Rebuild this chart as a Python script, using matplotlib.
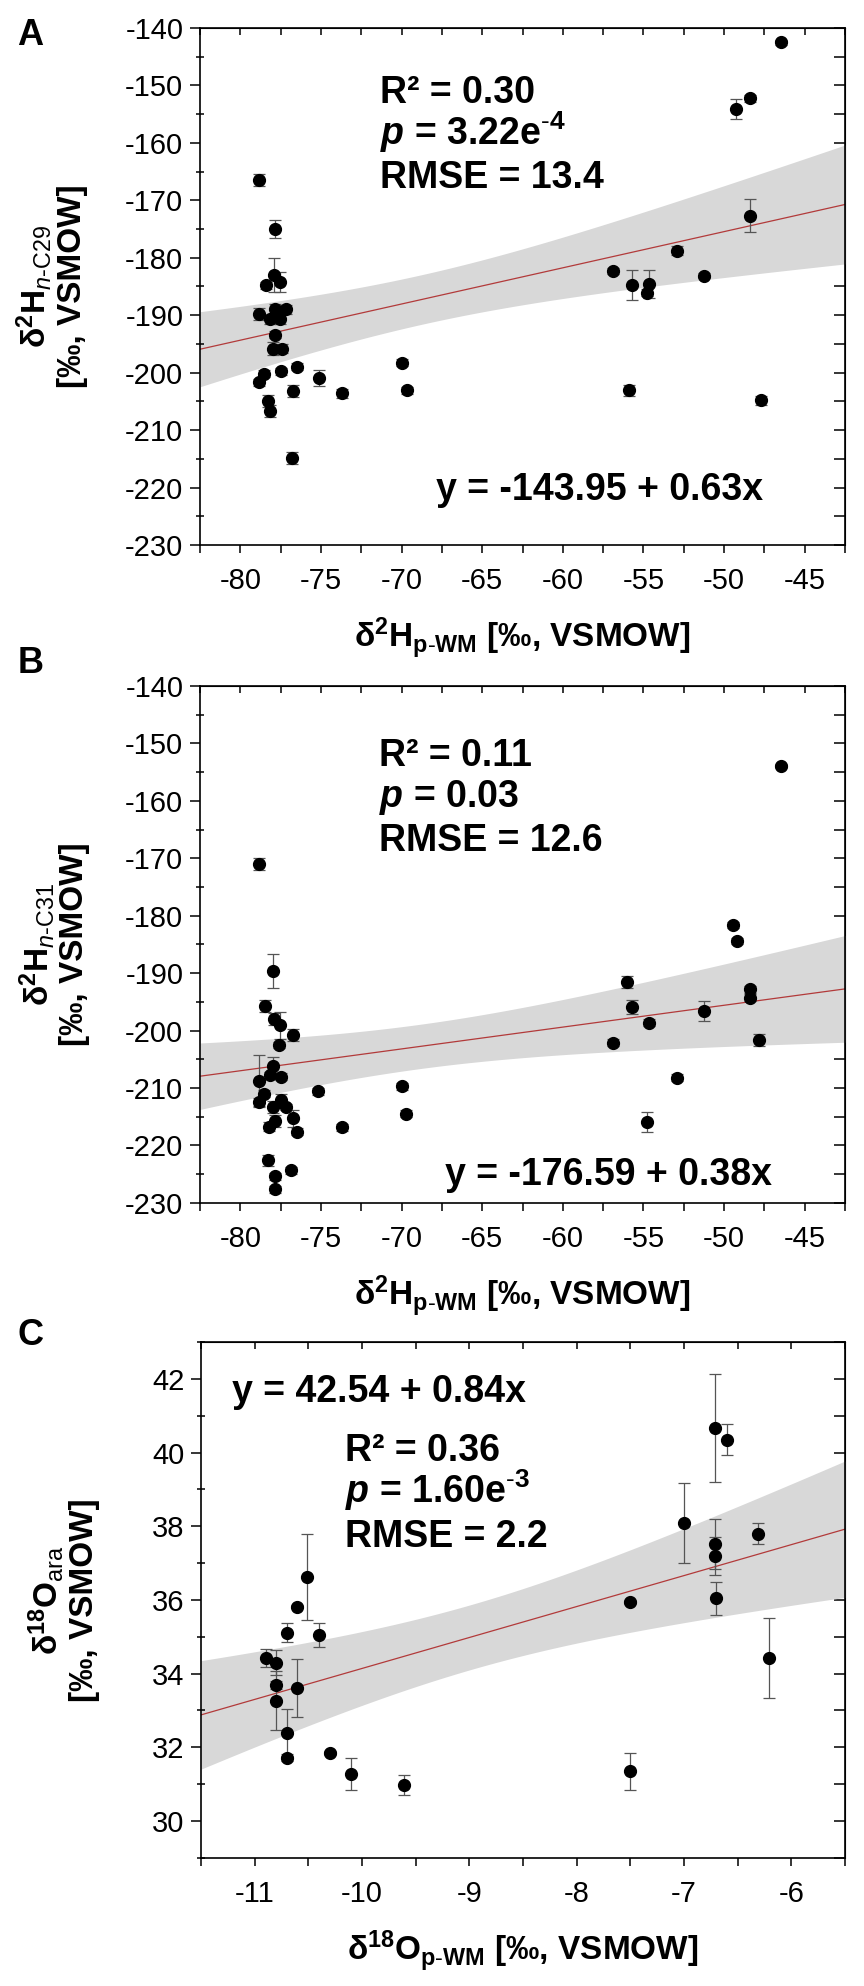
import numpy as np
import matplotlib.pyplot as plt
from matplotlib.ticker import MultipleLocator

plt.rcParams['font.family'] = ['Liberation Sans', 'DejaVu Sans']
plt.rcParams['mathtext.fontset'] = 'custom'
plt.rcParams['mathtext.rm'] = 'Liberation Sans'
plt.rcParams['mathtext.it'] = 'Liberation Sans:italic'
plt.rcParams['mathtext.bf'] = 'Liberation Sans:bold'
plt.rcParams['mathtext.bfit'] = 'Liberation Sans:bold:italic'
plt.rcParams['axes.unicode_minus'] = False

# ---- panel A: d2H n-C29 vs d2H p-WM
xA = [-78.84, -77.83, -77.90, -78.43, -77.54, -78.84, -77.83, -77.17, -78.16, -77.54,
      -77.83, -77.95, -77.41, -76.48, -77.48, -78.55, -78.84, -75.15, -76.71, -73.67,
      -78.26, -78.16, -76.80, -69.97, -69.68,
      -56.90, -55.70, -54.67, -54.78, -52.94, -51.24, -49.24, -48.41, -48.41, -46.45,
      -55.90, -47.70]
yA = [-166.5, -175.0, -183.0, -184.8, -184.2, -189.8, -189.0, -189.0, -190.7, -190.7,
      -193.4, -195.8, -195.8, -199.0, -199.8, -200.2, -201.7, -200.9, -203.2, -203.6,
      -204.9, -206.7, -214.9, -198.3, -203.1,
      -182.3, -184.7, -184.6, -186.1, -178.8, -183.1, -154.1, -152.2, -172.7, -142.5,
      -203.1, -204.8]
eA = [1.0, 1.6, 3.0, 0.6, 1.8, 1.0, 1.0, 0.8, 0.8, 0.8,
      0.6, 1.2, 0.8, 0.6, 0.6, 0.6, 0.6, 1.4, 1.0, 0.8,
      1.0, 1.0, 1.0, 0.6, 0.6,
      0.5, 2.6, 2.4, 0.6, 0.8, 0.5, 1.8, 0.6, 2.9, 0.4,
      1.0, 0.8]

# ---- panel B: d2H n-C31 vs d2H p-WM
xB = [-78.87, -77.98, -78.46, -77.91, -77.57, -76.75, -77.60, -77.95, -78.87, -78.16,
      -77.50, -78.53, -78.87, -77.95, -77.48, -77.17, -76.73, -76.48, -77.88, -78.20,
      -78.28, -77.85, -76.87, -77.85, -75.16, -73.68, -70.00, -69.70,
      -56.91, -56.02, -55.71, -54.68, -51.23, -49.45, -49.21, -48.42, -48.42, -47.81,
      -46.44, -52.90, -54.75]
yB = [-171.0, -189.6, -195.7, -198.0, -199.1, -200.8, -202.5, -206.1, -208.7, -207.8,
      -208.0, -211.0, -212.5, -213.3, -212.0, -213.3, -215.3, -217.6, -215.7, -216.7,
      -222.6, -225.4, -224.3, -227.6, -210.6, -216.8, -209.7, -214.5,
      -202.1, -191.5, -195.9, -198.6, -196.6, -181.6, -184.4, -192.8, -194.3, -201.6,
      -153.9, -208.2, -215.9]
eB = [1.0, 2.9, 1.0, 1.0, 2.4, 1.0, 0.6, 1.5, 4.5, 0.6,
      0.6, 0.6, 0.8, 1.0, 1.0, 0.6, 1.4, 0.6, 1.0, 0.8,
      1.0, 0.6, 0.6, 0.6, 0.6, 0.6, 0.6, 0.6,
      0.6, 1.0, 1.2, 0.6, 1.8, 0.5, 0.5, 0.6, 0.6, 1.0,
      0.4, 0.6, 1.8]

# ---- panel C: d18O ara vs d18O p-WM
xC = [-10.51, -10.605, -10.70, -10.40, -10.89, -10.80, -10.80, -10.80, -10.605, -10.70,
      -10.70, -10.30, -10.10, -9.605,
      -6.71, -6.60, -7.00, -6.707, -6.707, -6.306, -6.70, -7.505, -6.21, -7.50]
yC = [36.62, 35.82, 35.11, 35.04, 34.43, 34.30, 33.69, 33.27, 33.61, 32.40,
      31.72, 31.84, 31.28, 30.98,
      40.66, 40.35, 38.08, 37.51, 37.19, 37.80, 36.04, 35.95, 34.42, 31.35]
eC = [1.16, 0.05, 0.26, 0.33, 0.25, 0.33, 0.1, 0.8, 0.8, 0.64,
      0.1, 0.05, 0.44, 0.27,
      1.46, 0.43, 1.08, 0.68, 0.52, 0.29, 0.44, 0.05, 1.08, 0.5]

fits = {'A': (-143.95, 0.63, 13.4), 'B': (-176.59, 0.38, 12.6), 'C': (42.54, 0.84, 2.2)}
stats_txt = {
    'A': ['R² = 0.30', r'$\mathbfit{p}$ = 3.22e$^{\mathbf{\text{-}4}}$', 'RMSE = 13.4', 'y = -143.95 + 0.63x'],
    'B': ['R² = 0.11', r'$\mathbfit{p}$ = 0.03', 'RMSE = 12.6', 'y = -176.59 + 0.38x'],
    'C': ['R² = 0.36', r'$\mathbfit{p}$ = 1.60e$^{\mathbf{\text{-}3}}$', 'RMSE = 2.2', 'y = 42.54 + 0.84x'],
}

ylab = {
    'A': r'δ$^{\mathbf{2}}$H$_{\mathit{n}\text{-C29}}$' + '\n' + '[‰, VSMOW]',
    'B': r'δ$^{\mathbf{2}}$H$_{\mathit{n}\text{-C31}}$' + '\n' + '[‰, VSMOW]',
    'C': r'δ$^{\mathbf{18}}$O$_{\mathrm{ara}}$' + '\n' + '[‰, VSMOW]',
}
xlab_H = r'δ$^{\mathbf{2}}$H$_{\mathbf{p}\text{-}\mathbf{WM}}$ [‰, VSMOW]'
xlab_O = r'δ$^{\mathbf{18}}$O$_{\mathbf{p}\text{-}\mathbf{WM}}$ [‰, VSMOW]'


def panel(ax, x, y, e, key, xlim, ylim, xmaj, xmin, ymaj, ymin, topstep, rightstep,
          txtpos, eqpos, ylx, xlabel):
    x = np.array(x); y = np.array(y)
    b0, b1, rmse = fits[key]
    xx = np.linspace(xlim[0], xlim[1], 200)
    n = len(x)
    xbar = x.mean()
    sxx = ((x - xbar) ** 2).sum()
    half = 1.96 * rmse * np.sqrt(1.0 / n + (xx - xbar) ** 2 / sxx)
    yy = b0 + b1 * xx
    ax.fill_between(xx, yy - half, yy + half, color='#d8d8d8', lw=0, zorder=1)
    ax.plot(xx, yy, color='#b23a3a', lw=0.9, zorder=2)
    ax.errorbar(x, y, yerr=e, fmt='o', color='black', ms=8.5, ecolor='#555555',
                elinewidth=0.9, capsize=4, capthick=0.9, zorder=3)
    ax.set_xlim(xlim); ax.set_ylim(ylim)
    ax.xaxis.set_major_locator(MultipleLocator(xmaj))
    ax.xaxis.set_minor_locator(MultipleLocator(xmin))
    ax.yaxis.set_major_locator(MultipleLocator(ymaj))
    ax.yaxis.set_minor_locator(MultipleLocator(ymin))
    ax.tick_params(axis='x', which='both', direction='out', length=6, width=1.1,
                   labelsize=21, pad=10)
    ax.tick_params(axis='y', which='major', direction='out', length=7, width=1.1,
                   labelsize=21, pad=5)
    ax.tick_params(axis='y', which='minor', direction='inout', length=6, width=1.1)
    for s in ax.spines.values():
        s.set_linewidth(1.2)
    top = ax.secondary_xaxis('top')
    top.xaxis.set_major_locator(MultipleLocator(topstep))
    top.tick_params(direction='in', length=5, width=1.1, labeltop=False)
    right = ax.secondary_yaxis('right')
    right.yaxis.set_major_locator(MultipleLocator(rightstep))
    right.tick_params(direction='in', length=8, width=1.1, labelright=False)

    t = stats_txt[key]
    tx, ty = txtpos
    for i, s in enumerate(t[:3]):
        ax.text(tx, ty[i], s, transform=ax.transAxes, fontsize=27, fontweight='bold',
                va='baseline', ha='left')
    ax.text(eqpos[0], eqpos[1], t[3], transform=ax.transAxes, fontsize=27,
            fontweight='bold', va='baseline', ha='left')

    ax.set_ylabel(ylab[key], fontsize=24, fontweight='bold', linespacing=1.1)
    ax.yaxis.set_label_coords(ylx, 0.5)
    ax.set_xlabel(xlabel, fontsize=24, fontweight='bold')
    ax.xaxis.set_label_coords(0.5, -0.199)
    ax.xaxis.label.set_va('baseline')


fig = plt.figure(figsize=(8.64, 19.86), dpi=100)
axA = fig.add_axes([0.2315, 0.7256, 0.7465, 0.2603])
axB = fig.add_axes([0.2315, 0.3943, 0.7465, 0.2603])
axC = fig.add_axes([0.2326, 0.0645, 0.7454, 0.2598])

panel(axA, xA, yA, eA, 'A', (-82.5, -42.5), (-230, -140), 5, 2.5, 10, 5, 2.5, 5,
      (0.279, [0.855, 0.774, 0.690]), (0.366, 0.087), -0.174, xlab_H)
panel(axB, xB, yB, eB, 'B', (-82.5, -42.5), (-230, -140), 5, 2.5, 10, 5, 2.5, 5,
      (0.278, [0.8445, 0.765, 0.681]), (0.38, 0.035), -0.170, xlab_H)
panel(axC, xC, yC, eC, 'C', (-11.5, -5.5), (29, 43), 1, 0.5, 2, 1, 0.5, 1,
      (0.224, [0.770, 0.688, 0.603]), (0.048, 0.884), -0.157, xlab_O)

fig.text(0.0197, 0.9773, 'A', fontsize=26, fontweight='bold', va='baseline')
fig.text(0.0208, 0.6610, 'B', fontsize=26, fontweight='bold', va='baseline')
fig.text(0.0208, 0.3228, 'C', fontsize=26, fontweight='bold', va='baseline')

fig.savefig('out.png', dpi=100)
